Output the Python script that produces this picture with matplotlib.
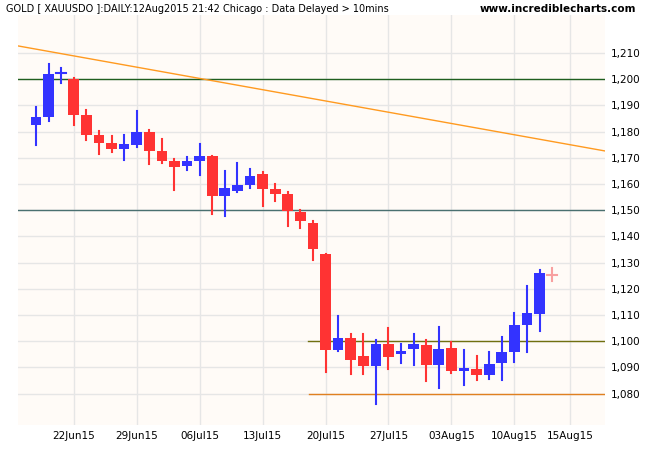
import matplotlib
matplotlib.use("Agg")
import matplotlib.pyplot as plt

# daily OHLC, 17 Jun 2015 .. 13 Aug 2015 (trading days)
opens = [1182.6, 1185.5, 1202.3, 1200.0, 1186.4, 1178.6, 1175.6, 1173.4, 1174.9, 1179.8,
         1172.5, 1168.7, 1166.8, 1168.8, 1170.6, 1155.5, 1157.5, 1159.7, 1163.7, 1158.0,
         1156.1, 1149.2, 1145.2, 1133.3, 1096.6, 1101.2, 1094.3, 1090.6, 1098.9, 1095.1,
         1097.0, 1098.6, 1091.0, 1097.4, 1088.7, 1089.5, 1087.2, 1091.8, 1095.8, 1106.1,
         1110.3, 1125.4]
highs = [1189.3, 1205.7, 1204.2, 1200.6, 1188.3, 1180.3, 1178.4, 1178.6, 1187.9, 1180.5,
         1177.1, 1169.5, 1170.2, 1175.2, 1170.6, 1164.9, 1167.9, 1165.6, 1164.5, 1160.0,
         1157.1, 1150.0, 1145.9, 1133.3, 1109.6, 1102.9, 1102.9, 1100.3, 1105.0, 1098.9,
         1102.8, 1100.5, 1105.4, 1099.7, 1096.6, 1094.3, 1095.8, 1101.5, 1110.7, 1121.0,
         1127.3, 1128.1]
lows = [1174.9, 1184.1, 1198.7, 1182.6, 1176.8, 1171.5, 1172.1, 1169.2, 1174.2, 1167.6,
        1167.9, 1157.8, 1165.4, 1163.5, 1148.6, 1147.8, 1157.0, 1158.4, 1151.7, 1153.4,
        1144.0, 1143.1, 1131.0, 1088.4, 1096.2, 1087.4, 1087.4, 1076.0, 1089.4, 1091.6,
        1090.8, 1084.8, 1082.2, 1087.9, 1083.4, 1085.1, 1085.5, 1085.1, 1092.0, 1095.8,
        1104.0, 1122.8]
closes = [1185.5, 1201.9, 1202.3, 1186.4, 1178.8, 1175.7, 1173.4, 1175.2, 1179.8, 1172.6,
          1168.8, 1166.5, 1168.7, 1170.6, 1155.5, 1158.4, 1159.5, 1163.1, 1158.1, 1156.2,
          1149.7, 1145.9, 1135.1, 1096.6, 1101.2, 1092.8, 1090.6, 1098.9, 1094.1, 1096.1,
          1098.9, 1091.0, 1097.0, 1088.7, 1089.8, 1087.2, 1091.4, 1095.8, 1106.1, 1110.7,
          1125.9, 1125.4]

tick_pos = [3, 8, 13, 18, 23, 28, 33, 38, 42.4]
tick_labels = ["22Jun15", "29Jun15", "06Jul15", "13Jul15", "20Jul15", "27Jul15",
               "03Aug15", "10Aug15", "15Aug15"]
price_ticks = list(range(1080, 1211, 10))

# support / resistance lines: (price, start index, colour)
levels = [(1200, -2, "#1f5f1f"), (1150, -2, "#4a7070"),
          (1100, 21.6, "#707010"), (1080, 21.7, "#e08020")]
trend_x = [-1.43, 45.2]
trend_y = [1212.7, 1172.6]

BLUE = "#3333ff"
RED = "#ff3333"

fig = plt.figure(figsize=(6.5, 4.5), dpi=100, facecolor="white")
ax = fig.add_axes([18 / 650, 25 / 450, 587 / 650, 410 / 450])
ax.set_facecolor("#fffbf7")
ax.set_xlim(trend_x[0], trend_x[1])
ax.set_ylim(1068, 1224.5)

ax.set_xticks(tick_pos)
ax.set_xticklabels(tick_labels)
ax.set_yticks(price_ticks)
ax.set_yticklabels([f"{p:,}" for p in price_ticks])
ax.yaxis.tick_right()
ax.tick_params(length=0, labelsize=7.5, pad=4)
ax.grid(True, color="#e6e6e6", linewidth=1)
ax.set_axisbelow(True)
for s in ax.spines.values():
    s.set_visible(False)

for price, start, col in levels:
    ax.plot([start, trend_x[1]], [price, price], color=col, linewidth=1, zorder=2)
ax.plot(trend_x, trend_y, color="#ff9a20", linewidth=1, zorder=2)

n = len(opens)
for i in range(n):
    o, h, l, c = opens[i], highs[i], lows[i], closes[i]
    col = BLUE if c >= o else RED
    if i == n - 1:
        col = "#f8a0a0"
    ax.plot([i, i], [l, h], color=col, linewidth=1.5, zorder=3)
    if abs(c - o) < 0.3:
        ax.plot([i - 0.4, i + 0.4], [o, o], color=col, linewidth=1.5, zorder=3)
    else:
        ax.bar(i, c - o, bottom=o, width=0.85, color=col, zorder=4)

fig.text(6 / 650, 1 - 9 / 450,
         "GOLD [ XAUUSDO ]:DAILY:12Aug2015 21:42 Chicago : Data Delayed > 10mins",
         fontsize=7, va="center", ha="left")
fig.text(636 / 650, 1 - 9 / 450, "www.incrediblecharts.com",
         fontsize=7.5, fontweight="bold", va="center", ha="right")

fig.savefig("out.png", dpi=100)
